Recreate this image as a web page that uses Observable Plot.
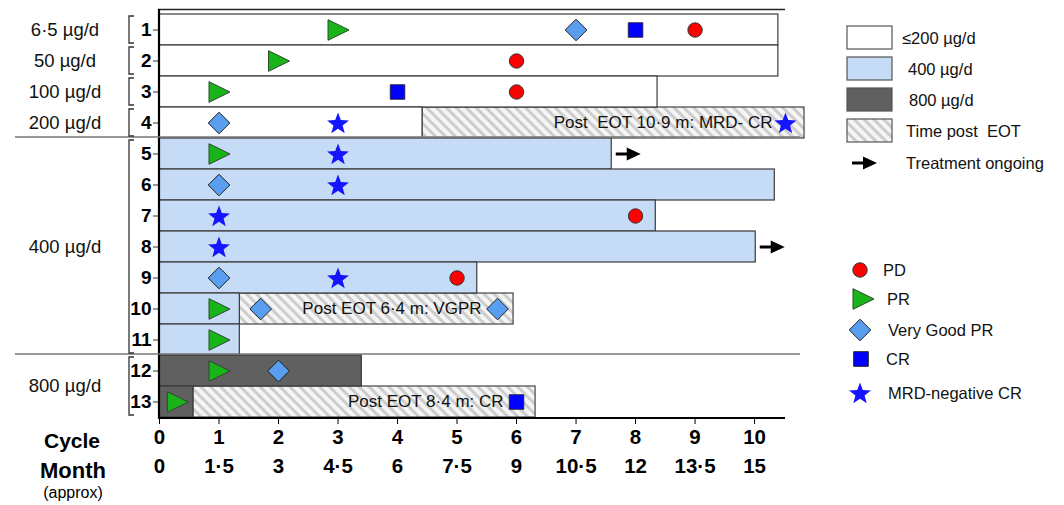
<!DOCTYPE html>
<html><head><meta charset="utf-8">
<script src="https://cdn.jsdelivr.net/npm/d3@7"></script>
<script src="https://cdn.jsdelivr.net/npm/@observablehq/plot@0.6"></script>
<style>
body{margin:0;background:#fff;font-family:"Liberation Sans",Arial,sans-serif;}
#wrap{position:relative;width:1064px;height:505px;overflow:hidden;}
</style></head><body><div id="wrap"></div>
<script>
// ---- data ----
const patients = ["1","2","3","4","5","6","7","8","9","10","11","12","13"];
const doseOfPatient = ["low","low","low","low","400","400","400","400","400","400","400","800","800"];
const treatmentEnd = [10.4,10.4,8.37,4.42,7.6,10.34,8.34,10.02,5.34,1.35,1.35,3.4,0.57];

const doseLabels = ["6·5 µg/d","50 µg/d","100 µg/d","200 µg/d","400 µg/d","800 µg/d"];
const doseFirst = ["1","2","3","4","5","12"];
const doseLast  = ["1","2","3","4","11","13"];

const postPatients = ["4","10","13"];
const postStart = [4.42,1.35,0.57];
const postEnd = [10.84,5.95,6.32];
const postLabels = ["Post  EOT 10·9 m: MRD- CR","Post EOT 6·4 m: VGPR","Post EOT 8·4 m: CR"];

const ongoingPatients = ["5","8"];

const pdPatients = ["1","2","3","7","9"];
const pdCycles   = [9,6,6,8,5];
const prPatients = ["1","2","3","5","10","11","12","13"];
const prCycles   = [3,2,1,1,1,1,1,0.3];
const vgprPatients = ["1","4","6","9","10","10","12"];
const vgprCycles   = [7,1,1,1,1.7,5.68,2];
const crPatients = ["1","3","13"];
const crCycles   = [8,4,6];
const mrdPatients = ["4","4","5","6","7","8","9"];
const mrdCycles   = [3,10.52,3,3,1,1,3];

const cycleTicks = [0,1,2,3,4,5,6,7,8,9,10];
const monthLabels = ["0","1·5","3","4·5","6","7·5","9","10·5","12","13·5","15"];

const doseLegend = ["≤200 µg/d","400 µg/d","800 µg/d","Time post  EOT"];
const responseLegend = ["PD","PR","Very Good PR","CR","MRD-negative CR"];

// ---- tables ----
const bars = patients.map((p,i)=>({patient:p, dose:doseOfPatient[i], end:treatmentEnd[i]}));
const post = postPatients.map((p,i)=>({patient:p, start:postStart[i], end:postEnd[i], label:postLabels[i]}));
const ongoing = ongoingPatients.map(p=>({patient:p, end:treatmentEnd[patients.indexOf(p)]}));
const pts = (ps,cs)=>ps.map((p,i)=>({patient:p, cycle:cs[i]}));

const fills = {low:"#ffffff","400":"#c6dbf5","800":"#606060"};
const colors = {pd:"#ff0000", pr:"#19b419", vgpr:"#5a9ef0", cr:"#0000ff", mrd:"#1414ff"};

// ---- symbols ----
const poly = (p)=>({draw(ctx){ctx.moveTo(p[0][0],p[0][1]); for(let i=1;i<p.length;i++) ctx.lineTo(p[i][0],p[i][1]); ctx.closePath();}});
const triRight = poly([[-10,-10.3],[11,0],[-10,10.3]]);
const diamond = poly([[0,-10.8],[10.8,0],[0,10.8],[-10.8,0]]);
const square = poly([[-7.3,-7.3],[7.3,-7.3],[7.3,7.3],[-7.3,7.3]]);
const starPts = [];
for(let k=0;k<10;k++){const a=-Math.PI/2+k*Math.PI/5; const r=k%2?4.8:11.5; starPts.push([r*Math.cos(a), r*Math.sin(a)+1]);}
const star = poly(starPts);
const arrow = {draw(ctx){ctx.rect(-13,-1.6,12,3.2); ctx.moveTo(-2,-6.5); ctx.lineTo(12,0); ctx.lineTo(-2,6.5); ctx.closePath();}};

const FONT = '"Liberation Sans", Arial, sans-serif';

const plot = Plot.plot({
  width:1064, height:505,
  marginLeft:159, marginRight:279, marginTop:12, marginBottom:87,
  style:{fontFamily:FONT, overflow:"visible", background:"transparent", color:"#000"},
  x:{domain:[0,10.52]},
  y:{domain:patients, padding:0},
  marks:[
    Plot.barX(post, {y:"patient", x1:"start", x2:"end", fill:"url(#hatch)", stroke:"#444", strokeWidth:1.2, inset:0}),
    Plot.barX(bars, {y:"patient", x:"end", fill:d=>fills[d.dose], stroke:"#3a3a3a", strokeWidth:1.2, inset:0}),
    Plot.text(post, {x:"end", y:"patient", text:"label", textAnchor:"end", dx:-32, fontSize:17, fill:"#111"}),
    Plot.dot(ongoing, {x:"end", y:"patient", symbol:arrow, dx:17, fill:"#000", stroke:"none"}),
    Plot.dot(pts(pdPatients,pdCycles), {x:"cycle", y:"patient", symbol:"circle", r:7.2, fill:colors.pd, stroke:"#333", strokeWidth:1}),
    Plot.dot(pts(prPatients,prCycles), {x:"cycle", y:"patient", symbol:triRight, fill:colors.pr, stroke:"#2a4a2a", strokeWidth:1}),
    Plot.dot(pts(vgprPatients,vgprCycles), {x:"cycle", y:"patient", symbol:diamond, fill:colors.vgpr, stroke:"#222", strokeWidth:1}),
    Plot.dot(pts(crPatients,crCycles), {x:"cycle", y:"patient", symbol:square, fill:colors.cr, stroke:"#222", strokeWidth:0.8}),
    Plot.dot(pts(mrdPatients,mrdCycles), {x:"cycle", y:"patient", symbol:star, fill:colors.mrd, stroke:"none"}),
    Plot.axisY({tickSize:6, tickPadding:2, fontWeight:"bold", fontSize:19, label:null, stroke:"#333"}),
    Plot.axisX({ticks:cycleTicks, tickSize:6, tickPadding:5, fontWeight:"bold", fontSize:20.5, label:null, stroke:"#000"}),
    Plot.axisX({ticks:cycleTicks, tickFormat:d=>monthLabels[cycleTicks.indexOf(d)], tickSize:0, tickPadding:40, fontWeight:"bold", fontSize:20.5, label:null})
  ]
});

document.getElementById("wrap").appendChild(plot);

// ---- decorations ----
const svg = d3.select(plot);
svg.insert("defs",":first-child").html(
  '<pattern id="hatch" patternUnits="userSpaceOnUse" width="7" height="7" patternTransform="rotate(-45)">' +
  '<rect width="7" height="7" fill="#f5f5f5"/><rect width="3" height="7" fill="#cdcdcd"/></pattern>');

const xs = plot.scale("x"), ys = plot.scale("y");
const bw = ys.bandwidth;
const X0 = xs.apply(0), XE = xs.range[1];
const Y0 = ys.range[0], YE = ys.range[1];
const g = svg.append("g").attr("text-anchor","middle");

// axes lines
g.append("line").attr("x1",X0-1).attr("x2",XE).attr("y1",Y0-2.5).attr("y2",Y0-2.5).attr("stroke","#222").attr("stroke-width",1.6);
g.append("line").attr("x1",X0).attr("x2",X0).attr("y1",Y0-3).attr("y2",YE+1).attr("stroke","#000").attr("stroke-width",2.2);
g.append("line").attr("x1",X0-1).attr("x2",XE).attr("y1",YE).attr("y2",YE).attr("stroke","#000").attr("stroke-width",2.2);

// group separators
[doseFirst[4], doseFirst[5]].forEach(p=>{
  const y = ys.apply(p) - 1;
  g.append("line").attr("x1",15).attr("x2",XE+15).attr("y1",y).attr("y2",y).attr("stroke","#777").attr("stroke-width",1.6);
});

// brackets and dose labels
doseLabels.forEach((lab,i)=>{
  const top = ys.apply(doseFirst[i]) + 2, bot = ys.apply(doseLast[i]) + bw - 2;
  const bx = 129;
  g.append("path").attr("d",`M${bx+5},${top}H${bx}V${bot}H${bx+5}`).attr("fill","none").attr("stroke","#333").attr("stroke-width",1.3);
  g.append("text").attr("x",65).attr("y",(top+bot)/2).attr("dy","0.35em").attr("text-anchor","middle")
    .attr("font-size",18.5).attr("font-family",FONT).attr("fill","#111").text(lab);
});

// axis titles
const at = (txt,x,y,size,weight)=>g.append("text").attr("x",x).attr("y",y).attr("text-anchor","middle")
  .attr("font-size",size).attr("font-weight",weight).attr("font-family",FONT).attr("fill","#000").text(txt);
at("Cycle",72,448,21,"bold");
at("Month",73,478,22,"bold");
at("(approx)",73,498,16,"normal");

// legend
const lg = svg.append("g").attr("font-family",FONT).attr("font-size",16.5).attr("fill","#111").attr("text-anchor","start");
const boxFills = ["#ffffff","#c6dbf5","#606060","url(#hatch)"];
const textX = [902,908,909,906];
doseLegend.forEach((lab,i)=>{
  const y = 26 + i*31;
  lg.append("rect").attr("x",847).attr("y",y).attr("width",45).attr("height",23).attr("fill",boxFills[i]).attr("stroke","#555").attr("stroke-width",1.2);
  lg.append("text").attr("x",textX[i]).attr("y",y+12).attr("dy","0.35em").text(lab);
});
lg.append("path").attr("d",d3.symbol(arrow)()).attr("transform","translate(865,163)").attr("fill","#000");
lg.append("text").attr("x",906).attr("y",163).attr("dy","0.35em").text("Treatment ongoing");

const legSyms = [
  {sym:d3.symbolCircle, size:Math.PI*7.2*7.2, fill:colors.pd, stroke:"#333", y:270, tx:883},
  {sym:triRight, fill:colors.pr, stroke:"#2a4a2a", y:299, tx:887},
  {sym:diamond, fill:colors.vgpr, stroke:"#222", y:330, tx:888},
  {sym:square, fill:colors.cr, stroke:"#222", y:359, tx:886},
  {sym:star, fill:colors.mrd, stroke:"none", y:393, tx:888}
];
legSyms.forEach((s,i)=>{
  const p = d3.symbol(s.sym, s.size||64)();
  lg.append("path").attr("d",p).attr("transform",`translate(${i===1?863:i===3?861:860},${s.y})`).attr("fill",s.fill).attr("stroke",s.stroke).attr("stroke-width",1);
  lg.append("text").attr("x",s.tx).attr("y",s.y).attr("dy","0.35em").text(responseLegend[i]);
});
</script></body></html>
